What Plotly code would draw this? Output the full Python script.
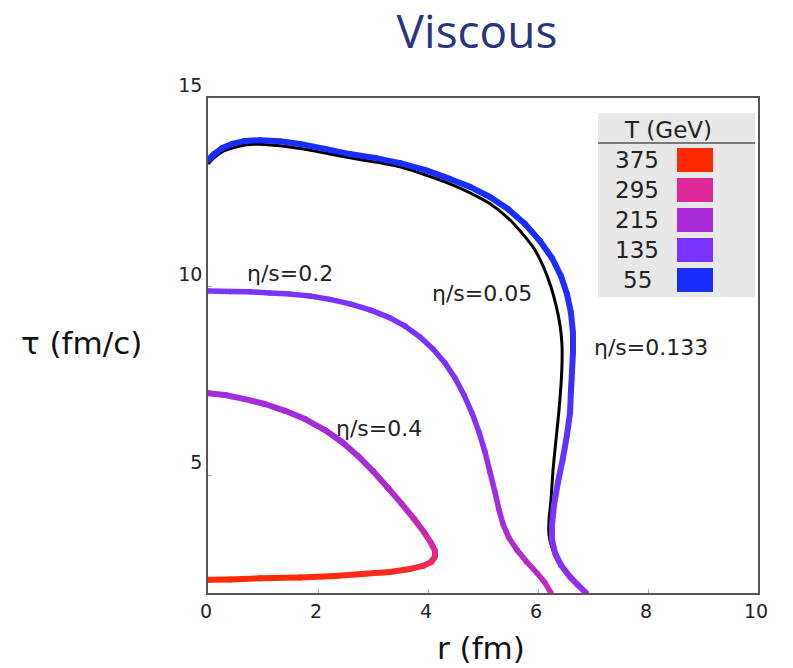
import plotly.graph_objects as go

# ---------------- data ----------------
x_ticks = [0, 2, 4, 6, 8, 10]
y_ticks = [5, 10, 15]

legend_T = [375, 295, 215, 135, 55]
legend_colors = ["#ff2a00", "#dd2a98", "#a82ad8", "#7a33ff", "#1a2dff"]

# eta/s = 0.4 surface (r in fm, tau in fm/c, local T in GeV)
r_04 = [0.0, 0.309, 0.673, 1.036, 1.4, 1.764, 2.127, 2.436, 2.727, 3.0, 3.273, 3.527,
        3.745, 3.927, 4.055, 4.127, 4.127, 4.055, 3.909, 3.673, 3.309, 2.855, 2.309,
        1.673, 0.945, 0.4, 0.0]
tau_04 = [7.18, 7.13, 7.02, 6.89, 6.71, 6.49, 6.20, 5.88, 5.51, 5.11, 4.66, 4.23,
          3.84, 3.49, 3.20, 2.99, 2.83, 2.69, 2.59, 2.51, 2.43, 2.38, 2.32,
          2.28, 2.26, 2.23, 2.22]
T_04 = [205, 205, 206, 207, 208, 209, 211, 213, 216, 220, 226, 235,
        248, 262, 278, 295, 312, 326, 338, 350, 358, 364, 368,
        371, 373, 375, 375]

# eta/s = 0.2 surface
r_02 = [0.0, 0.4, 0.764, 1.127, 1.491, 1.855, 2.218, 2.582, 2.945, 3.309, 3.582, 3.855,
        4.091, 4.309, 4.491, 4.655, 4.800, 4.927, 5.036, 5.127, 5.218, 5.291, 5.364,
        5.473, 5.618, 5.800, 5.982, 6.127, 6.236]
tau_02 = [9.89, 9.88, 9.87, 9.84, 9.81, 9.76, 9.67, 9.55, 9.39, 9.18, 8.96, 8.67,
          8.35, 7.98, 7.58, 7.13, 6.65, 6.15, 5.62, 5.08, 4.55, 4.08, 3.70,
          3.33, 3.01, 2.69, 2.40, 2.14, 1.87]
T_02 = [135, 135, 135, 135, 135, 135, 135, 135, 135, 135, 135, 136,
        137, 139, 143, 148, 156, 166, 178, 190, 200, 210, 218,
        225, 232, 238, 245, 250, 255]

# eta/s = 0.133 surface
r_0133 = [0.0, 0.109, 0.255, 0.436, 0.673, 0.945, 1.309, 1.673, 2.127, 2.582, 3.036,
          3.491, 3.945, 4.4, 4.764, 5.127, 5.455, 5.764, 6.036, 6.255, 6.418, 6.527,
          6.6, 6.636, 6.636, 6.618, 6.6, 6.582, 6.527, 6.455, 6.364, 6.291, 6.255,
          6.255, 6.309, 6.418, 6.582, 6.727, 6.873]
tau_0133 = [13.37, 13.53, 13.69, 13.80, 13.88, 13.90, 13.87, 13.80, 13.67, 13.53, 13.43,
            13.29, 13.11, 12.87, 12.66, 12.39, 12.07, 11.67, 11.22, 10.77, 10.29, 9.81,
            9.31, 8.78, 8.27, 7.74, 7.26, 6.65, 6.07, 5.46, 4.82, 4.21, 3.68,
            3.28, 2.93, 2.61, 2.30, 2.08, 1.87]
T_0133 = [55, 55, 55, 55, 55, 55, 55, 55, 55, 55, 55,
          55, 55, 55, 55, 55, 55, 55, 55, 56, 58, 61,
          65, 70, 75, 82, 88, 100, 110, 120, 128, 135, 142,
          148, 154, 160, 168, 175, 182]

# eta/s = 0.05 surface
r_005 = [0.0, 0.109, 0.255, 0.436, 0.673, 0.945, 1.309, 1.673, 2.127, 2.582, 3.036,
         3.491, 3.945, 4.4, 4.764, 5.127, 5.455, 5.709, 5.945, 6.109, 6.236, 6.327,
         6.4, 6.436, 6.436, 6.418, 6.382, 6.327, 6.273, 6.236, 6.2, 6.2, 6.255,
         6.364, 6.564, 6.727, 6.873]
tau_005 = [13.27, 13.43, 13.59, 13.69, 13.77, 13.79, 13.75, 13.68, 13.56, 13.43, 13.32,
           13.19, 12.98, 12.74, 12.50, 12.21, 11.83, 11.43, 10.98, 10.50, 10.00, 9.52,
           8.99, 8.46, 7.93, 7.40, 6.73, 5.94, 5.14, 4.34, 3.81, 3.41, 3.07,
           2.69, 2.32, 2.08, 1.87]

labels = ["η/s=0.2", "η/s=0.4", "η/s=0.05", "η/s=0.133"]
label_r = [1.49, 3.11, 4.98, 8.05]
label_tau = [10.36, 6.25, 9.83, 8.40]

# ---------------- helpers ----------------
FONT = "DejaVu Sans"
W, H = 793, 668
L, R, T, B = 208, 35, 98, 75
PW, PH = W - L - R, H - T - B


def px_x(px):
    return (px - L) / PW


def px_y(py):
    return (H - B - py) / PH


def _hex(c):
    c = c.lstrip("#")
    return [int(c[i:i + 2], 16) for i in (0, 2, 4)]


_stops = sorted(zip(legend_T, legend_colors))


def temp_color(t):
    if t <= _stops[0][0]:
        r, g, b = _hex(_stops[0][1])
        return f"rgb({r},{g},{b})"
    for (t0, c0), (t1, c1) in zip(_stops[:-1], _stops[1:]):
        if t <= t1:
            f = (t - t0) / (t1 - t0)
            a, bb = _hex(c0), _hex(c1)
            r, g, b = [round(a[k] + f * (bb[k] - a[k])) for k in range(3)]
            return f"rgb({r},{g},{b})"
    r, g, b = _hex(_stops[-1][1])
    return f"rgb({r},{g},{b})"


fig = go.Figure()


def add_gradient_curve(r, tau, temps, width):
    for i in range(len(r) - 1):
        c = temp_color((temps[i] + temps[i + 1]) / 2)
        fig.add_trace(go.Scatter(
            x=[r[i], r[i + 1]], y=[tau[i], tau[i + 1]], mode="lines",
            line=dict(color=c, width=width), hoverinfo="skip", showlegend=False))
    fig.add_trace(go.Scatter(
        x=r, y=tau, mode="markers",
        marker=dict(size=width, color=[temp_color(t) for t in temps], line=dict(width=0)),
        hoverinfo="skip", showlegend=False))


add_gradient_curve(r_04, tau_04, T_04, 6)
add_gradient_curve(r_02, tau_02, T_02, 5.5)
fig.add_trace(go.Scatter(x=r_005, y=tau_005, mode="lines",
                         line=dict(color="black", width=3, shape="spline", smoothing=0.6),
                         hoverinfo="skip", showlegend=False))
add_gradient_curve(r_0133, tau_0133, T_0133, 6)


def text(x, y, s, size, color="#222", xref="paper", yref="paper", family=FONT):
    fig.add_annotation(x=x, y=y, xref=xref, yref=yref, text=s, showarrow=False,
                       xanchor="center", yanchor="middle",
                       font=dict(family=family, size=size, color=color))


# curve labels
for txt, xr, yt in zip(labels, label_r, label_tau):
    text(xr, yt, txt, 22, xref="x", yref="y")

# temperature key
shapes = [dict(type="rect", xref="paper", yref="paper",
               x0=px_x(598), x1=px_x(755), y0=px_y(297), y1=px_y(113),
               fillcolor="#e8e8e8", line=dict(width=0), layer="above"),
          dict(type="line", xref="paper", yref="paper",
               x0=px_x(598), x1=px_x(755), y0=px_y(143), y1=px_y(143),
               line=dict(color="#555", width=1.5), layer="above")]
text(px_x(668), px_y(130), "T (GeV)", 23)
for i, (tv, col) in enumerate(zip(legend_T, legend_colors)):
    cy = 160 + 30 * i
    shapes.append(dict(type="rect", xref="paper", yref="paper",
                       x0=px_x(677), x1=px_x(713), y0=px_y(cy + 12), y1=px_y(cy - 12),
                       fillcolor=col, line=dict(width=0), layer="above"))
    text(px_x(637), px_y(cy), str(tv), 23)

# axis titles
text(px_x(481), px_y(648), "r (fm)", 31, color="#111")
text(px_x(81), px_y(343), "τ (fm/c)", 31, color="#111")

axis_common = dict(showline=True, mirror=True, linecolor="#555", linewidth=1.5,
                   showgrid=False, zeroline=False, ticks="inside", ticklen=4,
                   tickcolor="#aaa", tickfont=dict(family=FONT, size=19, color="#222"))

fig.update_layout(
    width=W, height=H,
    margin=dict(l=L, r=R, t=T, b=B),
    paper_bgcolor="white", plot_bgcolor="white",
    hovermode=False,
    shapes=shapes,
    title=dict(text="Viscous", x=477 / W, y=1 - 32 / H, xanchor="center", yanchor="middle",
               font=dict(family="Open Sans", size=46, color="#2b3480")),
    xaxis=dict(range=[0, 10], tickvals=x_ticks, ticklabelshift=-2, **axis_common),
    yaxis=dict(range=[1.87, 15.02], tickvals=y_ticks, ticklabelshift=-13, **axis_common),
)

fig.write_html("out.html")
